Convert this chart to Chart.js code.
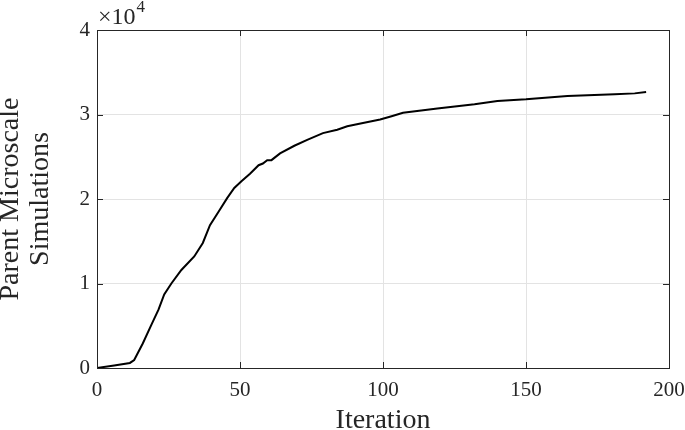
<!DOCTYPE html>
<html>
<head>
<meta charset="utf-8">
<script src="https://cdn.jsdelivr.net/npm/chart.js@4"></script>
<style>
  body { margin: 0; background: #fff; }
  #chart { display: block; }
</style>
</head>
<body>
<canvas id="chart" width="685" height="430"></canvas>
<script>
// valeurs
const iterations = [0, 6, 11.5, 13, 16, 19, 21.5, 23.5, 26, 29.5, 34, 37, 39.5, 42.5, 45.5, 48, 50.5, 53.5, 56.5, 58, 59.5, 61, 64, 69, 73.5, 79, 84, 87.5, 93, 99, 103, 107, 119, 132, 140, 150, 164.5, 181, 188, 192];
const simulations = [0, 300, 600, 950, 2900, 5100, 6900, 8700, 10000, 11600, 13200, 14800, 16900, 18500, 20100, 21300, 22100, 23000, 24000, 24200, 24600, 24600, 25400, 26300, 27000, 27800, 28200, 28600, 29000, 29400, 29800, 30200, 30700, 31200, 31600, 31800, 32200, 32400, 32500, 32650];
const xTicks = [0, 50, 100, 150, 200];
const yTicks = [0, 10000, 20000, 30000, 40000];

const textColor = "#262626";
const fontFamily = "'Liberation Serif', 'DejaVu Serif', serif";

// cadre + petites graduations vers l'intérieur, comme matlab
const boxPlugin = {
  id: "box",
  afterDraw(chart) {
    const ctx = chart.ctx;
    const a = chart.chartArea;
    const x = chart.scales.x;
    const y = chart.scales.y;
    ctx.save();
    ctx.strokeStyle = textColor;
    ctx.lineWidth = 1;
    ctx.strokeRect(a.left + 0.5, a.top + 0.5, a.right - a.left, a.bottom - a.top);
    ctx.beginPath();
    xTicks.forEach(function (v) {
      const px = Math.round(x.getPixelForValue(v)) + 0.5;
      ctx.moveTo(px, a.bottom); ctx.lineTo(px, a.bottom - 6);
      ctx.moveTo(px, a.top); ctx.lineTo(px, a.top + 6);
    });
    yTicks.forEach(function (v) {
      const py = Math.round(y.getPixelForValue(v)) + 0.5;
      ctx.moveTo(a.left, py); ctx.lineTo(a.left + 6, py);
      ctx.moveTo(a.right, py); ctx.lineTo(a.right - 6, py);
    });
    ctx.stroke();

    // facteur d'échelle
    ctx.fillStyle = textColor;
    ctx.textBaseline = "alphabetic";
    ctx.font = "24px " + fontFamily;
    ctx.fillText("\u00d710", a.left + 1, a.top - 6);
    const w = ctx.measureText("\u00d710").width;
    ctx.font = "17px " + fontFamily;
    ctx.fillText("4", a.left + 2 + w, a.top - 18);
    ctx.restore();
  }
};

const ctx = document.getElementById("chart").getContext("2d");
new Chart(ctx, {
  type: "scatter",
  data: {
    datasets: [{
      data: iterations.map((it, i) => ({ x: it, y: simulations[i] })),
      showLine: true,
      borderColor: "#000",
      borderWidth: 2,
      pointRadius: 0,
      tension: 0
    }]
  },
  options: {
    responsive: false,
    devicePixelRatio: 1,
    animation: false,
    layout: { padding: { top: 30, right: 16, left: 0, bottom: 0 } },
    plugins: { legend: { display: false }, tooltip: { enabled: false } },
    scales: {
      x: {
        type: "linear",
        min: 0,
        max: 200,
        afterBuildTicks: function (scale) { scale.ticks = xTicks.map(v => ({ value: v })); },
        afterFit: function (scale) {
          scale.height = 62;
          scale.paddingLeft = 0;
          scale.paddingRight = 0;
        },
        ticks: { color: textColor, font: { family: fontFamily, size: 21 }, padding: 10, maxRotation: 0 },
        grid: { color: "#e3e3e3", drawTicks: false },
        border: { display: false },
        title: {
          display: true,
          text: "Iteration",
          color: textColor,
          font: { family: fontFamily, size: 28, lineHeight: 0.7 },
          padding: { top: 0, bottom: 0 }
        }
      },
      y: {
        type: "linear",
        min: 0,
        max: 40000,
        afterBuildTicks: function (scale) { scale.ticks = yTicks.map(v => ({ value: v })); },
        afterFit: function (scale) {
          scale.width = 97;
          scale.paddingTop = 0;
          scale.paddingBottom = 0;
        },
        ticks: {
          color: textColor,
          font: { family: fontFamily, size: 21 },
          padding: 7,
          callback: function (v) { return v / 10000; }
        },
        grid: { color: "#e3e3e3", drawTicks: false },
        border: { display: false },
        title: {
          display: true,
          text: ["Parent Microscale", "Simulations"],
          color: textColor,
          font: { family: fontFamily, size: 28, lineHeight: 1.07 },
          padding: { top: -4, bottom: 0 }
        }
      }
    }
  },
  plugins: [boxPlugin]
});
</script>
</body>
</html>
